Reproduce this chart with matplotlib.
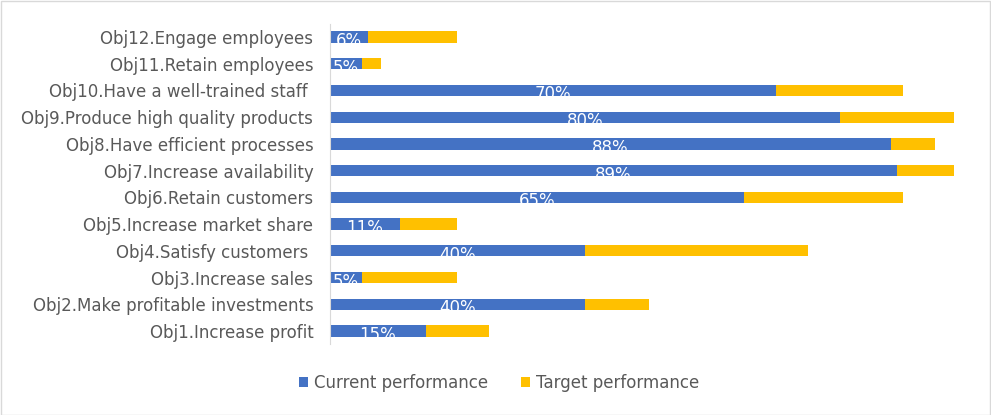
import numpy as np
import matplotlib.pyplot as plt
from matplotlib.patches import Rectangle

# Data
objectives = [
    "Obj1.Increase profit",
    "Obj2.Make profitable investments",
    "Obj3.Increase sales",
    "Obj4.Satisfy customers ",
    "Obj5.Increase market share",
    "Obj6.Retain customers",
    "Obj7.Increase availability",
    "Obj8.Have efficient processes",
    "Obj9.Produce high quality products",
    "Obj10.Have a well-trained staff ",
    "Obj11.Retain employees",
    "Obj12.Engage employees",
]
current = [15, 40, 5, 40, 11, 65, 89, 88, 80, 70, 5, 6]
target = [25, 50, 20, 75, 20, 90, 98, 95, 98, 90, 8, 20]

BLUE = "#4472C4"
GOLD = "#FFC000"
TEXT = "#595959"

W, H = 991, 415
fig = plt.figure(figsize=(W / 100, H / 100), dpi=100)
ax = fig.add_axes([330 / W, (H - 344.4) / H, (967 - 330) / W, (344.4 - 23.6) / H])

y = np.arange(len(objectives))
cur = np.array(current)
gap = np.array(target) - cur

ax.barh(y, cur, height=0.42, color=BLUE, label="Current performance")
ax.barh(y, gap, left=cur, height=0.42, color=GOLD, label="Target performance")

for yi, c in zip(y, cur):
    ax.text(c / 2, yi - 0.15, f"{c}%", ha="center", va="center",
            color="white", fontsize=12, clip_on=True)

ax.set_xlim(0, 100)
ax.set_ylim(-0.5, len(objectives) - 0.5)
ax.set_yticks(y)
ax.set_yticklabels(objectives, fontsize=12, color=TEXT)
ax.tick_params(axis="y", length=0, pad=12)
ax.set_xticks([])
for side in ["top", "right", "bottom"]:
    ax.spines[side].set_visible(False)
ax.spines["left"].set_color("#d9d9d9")

fig.legend(loc="center", bbox_to_anchor=(499 / W, (H - 383) / H), ncol=2,
           frameon=False, fontsize=12, labelcolor=TEXT,
           handlelength=0.55, handleheight=0.55, handletextpad=0.35, columnspacing=2.0)

fig.patches.append(Rectangle((0.5 / W, 0.5 / H), (W - 1.5) / W, (H - 1.5) / H,
                             transform=fig.transFigure, fill=False,
                             edgecolor="#d9d9d9", linewidth=1))

fig.savefig("out.png", dpi=100)
